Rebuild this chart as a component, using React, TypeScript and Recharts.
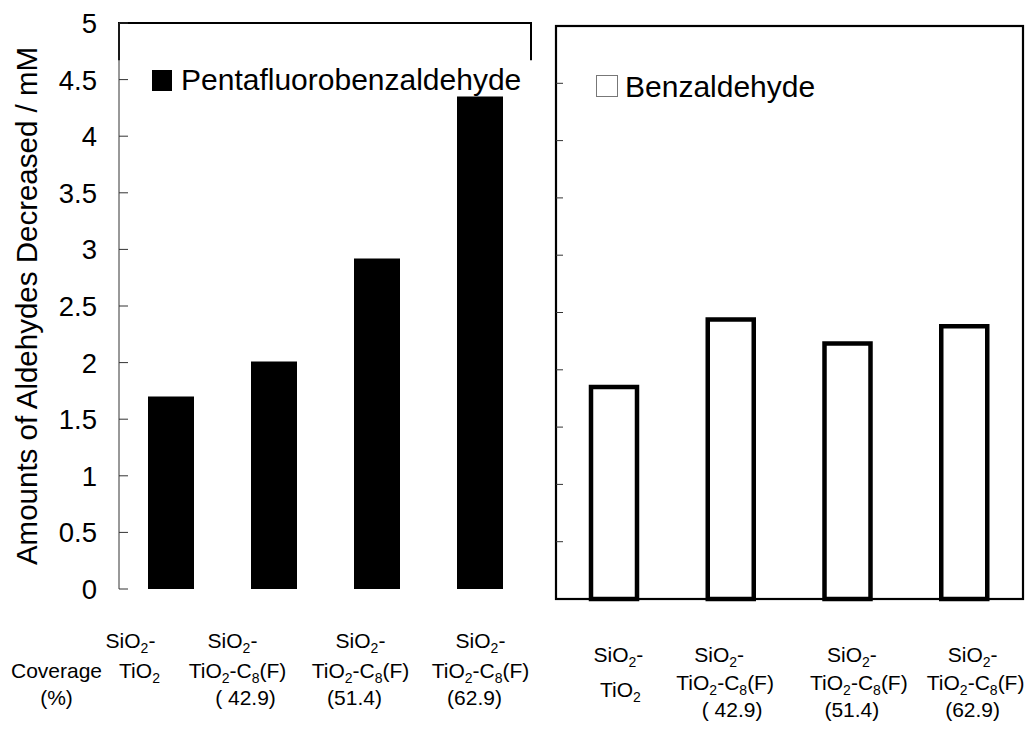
import React from "react";
import { BarChart, Bar, XAxis, YAxis, ReferenceArea, Legend } from "recharts";

const FONT = '"Liberation Sans", Arial, Helvetica, sans-serif';

// ---- data ----
const categories = [
  "SiO2-TiO2",
  "SiO2-TiO2-C8(F) 42.9",
  "SiO2-TiO2-C8(F) 51.4",
  "SiO2-TiO2-C8(F) 62.9",
];
const coverageLabels = ["", "( 42.9)", "(51.4)", "(62.9)"];
const pentafluoroValues = [1.7, 2.01, 2.92, 4.35];
const benzaldehydeValues = [1.85, 2.44, 2.23, 2.38];
const leftTicks = [0, 0.5, 1, 1.5, 2, 2.5, 3, 3.5, 4, 4.5, 5];
const rightTicks = [0.5, 1, 1.5, 2, 2.5, 3, 3.5, 4, 4.5];
const bracketBottom = 4.67;

const leftData = categories.map((c, i) => ({ cat: c, value: pentafluoroValues[i] }));
const rightData = categories.map((c, i) => ({ cat: c, value: benzaldehydeValues[i] }));

// ---- label layout (positions only) ----
const LEFT_SHIFTS = [
  [-40, -31, 0],
  [-41, -36, -28],
  [-16, -16, -22],
  [1, 1, -5],
];
const RIGHT_SHIFTS = [
  [4, 6, 0],
  [-12, -6, 1],
  [4, 11, 4],
  [8, 11, 8],
];
const LEFT_ROWS = [59, 89, 116];
const RIGHT_ROWS = [63, 91, 118];
const RIGHT_ROW2_DROP = [7, 0, 0, 0];

const LABEL_SIZE = 21;
const SUB_SIZE = 14;

function SiO2Text({ x, y }: { x: number; y: number }) {
  return (
    <text x={x} y={y} textAnchor="middle" fontSize={LABEL_SIZE} fontFamily={FONT} fill="#000">
      SiO
      <tspan fontSize={SUB_SIZE} dy={5}>2</tspan>
      <tspan dy={-5}>-</tspan>
    </text>
  );
}

function TiO2Text({ x, y, full }: { x: number; y: number; full: boolean }) {
  if (!full) {
    return (
      <text x={x} y={y} textAnchor="middle" fontSize={LABEL_SIZE} fontFamily={FONT} fill="#000">
        TiO
        <tspan fontSize={SUB_SIZE} dy={5}>2</tspan>
      </text>
    );
  }
  return (
    <text x={x} y={y} textAnchor="middle" fontSize={LABEL_SIZE} fontFamily={FONT} fill="#000">
      TiO
      <tspan fontSize={SUB_SIZE} dy={5}>2</tspan>
      <tspan dy={-5}>-C</tspan>
      <tspan fontSize={SUB_SIZE} dy={5}>8</tspan>
      <tspan dy={-5}>(F)</tspan>
    </text>
  );
}

function makeXTick(shifts: number[][], rows: number[], drops: number[], showCoverage: boolean) {
  return (props: any) => {
    const { x, y, payload } = props;
    let i = props.index;
    if (i === undefined || i === null) i = categories.indexOf(payload.value);
    const s = shifts[i] || [0, 0, 0];
    const full = i > 0;
    return (
      <g>
        <SiO2Text x={x + s[0]} y={y + rows[0]} />
        <TiO2Text x={x + s[1]} y={y + rows[1] + (drops[i] || 0)} full={full} />
        {coverageLabels[i] ? (
          <text x={x + s[2]} y={y + rows[2]} textAnchor="middle" fontSize={LABEL_SIZE} fontFamily={FONT} fill="#000">
            {coverageLabels[i]}
          </text>
        ) : null}
        {showCoverage && i === 0 ? (
          <g>
            <text x={x - 114} y={y + rows[1]} textAnchor="middle" fontSize={LABEL_SIZE} fontFamily={FONT} fill="#000">
              Coverage
            </text>
            <text x={x - 114} y={y + rows[2]} textAnchor="middle" fontSize={LABEL_SIZE} fontFamily={FONT} fill="#000">
              (%)
            </text>
          </g>
        ) : null}
      </g>
    );
  };
}

const LeftXTick = makeXTick(LEFT_SHIFTS, LEFT_ROWS, [0, 0, 0, 0], true);
const RightXTick = makeXTick(RIGHT_SHIFTS, RIGHT_ROWS, RIGHT_ROW2_DROP, false);

const LeftYTick = (props: any) => {
  const { x, y, payload } = props;
  return (
    <g>
      <line x1={x + 22} x2={x + 31} y1={y} y2={y} stroke="#333" strokeWidth={1} />
      <text x={x} y={y} dy="0.36em" textAnchor="end" fontSize={27.5} fontFamily={FONT} fill="#000">
        {payload.value}
      </text>
    </g>
  );
};

const RightYTick = (props: any) => {
  const { x, y } = props;
  return <line x1={x} x2={x + 7} y1={y} y2={y} stroke="#333" strokeWidth={1} />;
};

const BracketShape = (props: any) => {
  const { x, y, width, height } = props;
  return (
    <path
      d={`M${x},${y + height} V${y} H${x + width} V${y + height}`}
      fill="none"
      stroke="#000"
      strokeWidth={2}
    />
  );
};

const FrameShape = (props: any) => {
  const { x, y, width, height } = props;
  return <rect x={x} y={y} width={width} height={height} fill="none" stroke="#000" strokeWidth={2.2} />;
};

const YTitle = (props: any) => {
  const vb = props.viewBox || { x: 0, y: 0, width: 0, height: 0 };
  const cx = vb.x + 37;
  const cy = vb.y + vb.height / 2;
  return (
    <text
      x={cx}
      y={cy}
      transform={`rotate(-90, ${cx}, ${cy})`}
      textAnchor="middle"
      fontSize={29.5}
      fontFamily={FONT}
      fill="#000"
    >
      Amounts of Aldehydes Decreased / mM
    </text>
  );
};

const LeftLegend = (props: any) => {
  const name = props.payload && props.payload[0] ? props.payload[0].value : "";
  return (
    <svg width={400} height={40} style={{ display: "block" }}>
      <rect x={2} y={10} width={20} height={21} fill="#000" />
      <text x={31} y={30} fontSize={30} fontFamily={FONT} fill="#000">
        {name}
      </text>
    </svg>
  );
};

const RightLegend = (props: any) => {
  const name = props.payload && props.payload[0] ? props.payload[0].value : "";
  return (
    <svg width={300} height={45} style={{ display: "block" }}>
      <rect x={2.5} y={15.5} width={21} height={21} fill="#fff" stroke="#777" strokeWidth={1} />
      <text x={31} y={37} fontSize={30} fontFamily={FONT} fill="#000">
        {name}
      </text>
    </svg>
  );
};

export default function App() {
  return (
    <div style={{ position: "absolute", left: 0, top: 0, width: 1032, height: 730, background: "#fff" }}>
      <div style={{ position: "absolute", left: 0, top: 0 }}>
        <BarChart
          width={545}
          height={730}
          data={leftData}
          margin={{ top: 23, right: 14, left: 0, bottom: 21 }}
        >
          <XAxis
            dataKey="cat"
            axisLine={false}
            tickLine={false}
            tickSize={0}
            tickMargin={0}
            height={120}
            interval={0}
            tick={LeftXTick}
          />
          <YAxis
            domain={[0, 5]}
            ticks={leftTicks}
            width={119}
            tickSize={0}
            tickMargin={22}
            tickLine={false}
            axisLine={{ stroke: "#333", strokeWidth: 1 }}
            tick={LeftYTick}
            interval={0}
            label={{ content: YTitle }}
          />
          <ReferenceArea y1={bracketBottom} y2={5} shape={BracketShape} ifOverflow="visible" />
          <Bar
            dataKey="value"
            name="Pentafluorobenzaldehyde"
            fill="#000"
            barSize={46}
            isAnimationActive={false}
          />
          <Legend
            layout="horizontal"
            verticalAlign="middle"
            align="center"
            wrapperStyle={{ position: "absolute", left: 150, top: 60, width: 400, height: 40 }}
            content={LeftLegend}
          />
        </BarChart>
      </div>
      <div style={{ position: "absolute", left: 540, top: 0 }}>
        <BarChart
          width={492}
          height={730}
          data={rightData}
          margin={{ top: 26, right: 9, left: 0, bottom: 21 }}
        >
          <XAxis
            dataKey="cat"
            axisLine={false}
            tickLine={false}
            tickSize={0}
            tickMargin={0}
            height={110}
            interval={0}
            tick={RightXTick}
          />
          <YAxis
            domain={[0, 5]}
            ticks={rightTicks}
            width={16}
            tickSize={0}
            tickMargin={0}
            tickLine={false}
            axisLine={false}
            tick={RightYTick}
            interval={0}
          />
          <Bar
            dataKey="value"
            name="Benzaldehyde"
            fill="#fff"
            stroke="#000"
            strokeWidth={4.5}
            barSize={46}
            isAnimationActive={false}
          />
          <ReferenceArea y1={0} y2={5} shape={FrameShape} ifOverflow="visible" />
          <Legend
            layout="horizontal"
            verticalAlign="middle"
            align="center"
            wrapperStyle={{ position: "absolute", left: 54, top: 60, width: 300, height: 45 }}
            content={RightLegend}
          />
        </BarChart>
      </div>
    </div>
  );
}
